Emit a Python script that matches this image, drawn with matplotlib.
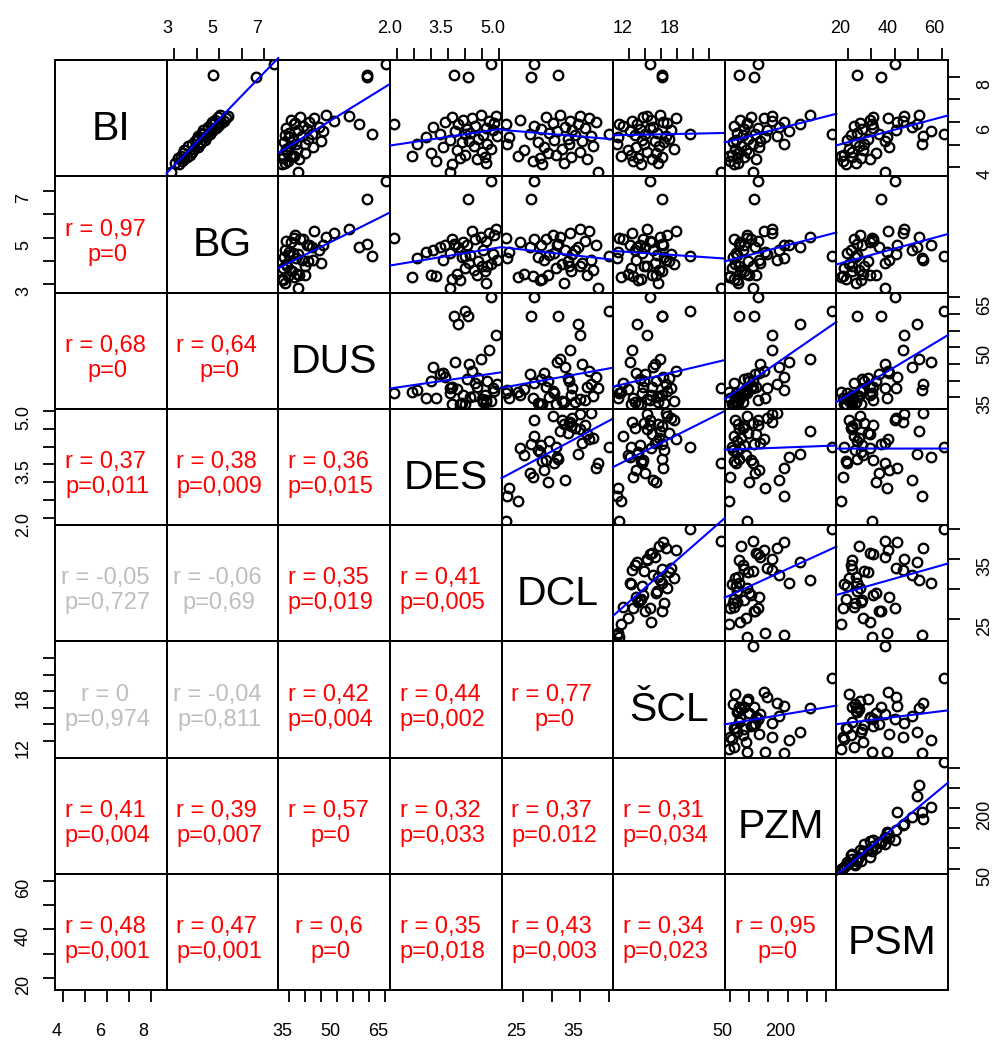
import matplotlib
matplotlib.use("Agg")
import matplotlib.pyplot as plt
import matplotlib.transforms as mtransforms
import numpy as np

plt.rcParams["font.family"] = ["Liberation Sans", "DejaVu Sans"]

names = ["BI", "BG", "DUS", "DES", "DCL", "ŠCL", "PZM", "PSM"]

bi = [8.54, 8.07, 7.99, 5.45, 3.80, 5.90, 6.30, 6.26, 6.21, 6.17, 6.10, 6.04,
      6.01, 5.95, 5.91, 5.84, 5.79, 5.73, 5.70, 5.64, 5.59, 5.53, 5.49, 5.41,
      5.37, 5.32, 5.27, 5.21, 5.17, 5.12, 5.05, 5.01, 4.94, 4.89, 4.81, 4.76,
      4.70, 4.63, 4.56, 4.51, 4.46, 4.41, 4.35, 4.29, 4.21, 4.14]
bg = [7.45, 4.74, 6.65, 4.20, 2.84, 5.00, 5.05, 5.38, 4.96, 5.30, 4.82, 5.22,
      4.70, 5.10, 4.62, 4.95, 4.48, 4.85, 4.70, 4.30, 4.68, 4.25, 4.60, 4.48,
      4.05, 4.40, 4.02, 4.35, 3.92, 4.18, 3.80, 4.15, 3.62, 4.05, 3.88, 3.45,
      3.78, 3.40, 3.70, 3.30, 3.58, 3.18, 3.42, 3.35, 3.05, 3.22]
dus = [65.2, 59.3, 59.3, 61.0, 37.8, 36.3, 46.4, 53.6, 38.2, 42.8, 35.5, 49.1,
       41.0, 36.9, 56.9, 39.4, 44.2, 34.0, 40.4, 37.6, 45.6, 35.0, 42.1, 33.5,
       38.9, 34.8, 40.8, 36.2, 44.9, 33.2, 39.8, 37.0, 35.3, 42.4, 33.9, 37.4,
       34.4, 40.0, 33.0, 36.5, 35.7, 32.9, 38.0, 34.6, 33.6, 32.8]
des = [4.74, 3.66, 4.08, 4.00, 3.55, 1.92, 4.45, 4.90, 3.62, 4.20, 3.95, 4.70,
       3.40, 4.85, 3.80, 4.30, 3.05, 4.60, 4.05, 4.80, 3.70, 4.15, 3.25, 4.52,
       4.94, 2.85, 4.38, 3.55, 4.10, 3.90, 4.65, 2.60, 4.25, 3.35, 4.75, 3.75,
       4.48, 3.00, 4.00, 2.46, 4.58, 3.85, 4.35, 3.15, 4.62, 3.60]
dcl = [26.9, 31.1, 26.4, 40.0, 38.1, 22.0, 31.5, 35.0, 29.0, 36.5, 24.5, 33.2,
       37.8, 30.2, 34.6, 27.0, 32.4, 35.9, 28.1, 33.6, 31.0, 29.6, 26.3, 34.1,
       36.8, 22.6, 32.9, 30.5, 35.3, 27.6, 33.0, 22.3, 37.2, 28.7, 31.8, 25.2,
       34.9, 29.3, 30.8, 24.1, 33.4, 27.9, 36.1, 26.8, 32.1, 28.4]
scl = [14.6, 16.1, 16.1, 19.6, 23.5, 10.7, 15.9, 14.2, 13.8, 17.9, 14.8, 12.4,
       16.2, 16.8, 13.0, 11.2, 15.0, 14.6, 13.4, 17.3, 12.1, 15.5, 14.0, 12.7,
       16.6, 10.6, 17.0, 13.6, 15.2, 16.4, 13.9, 10.5, 15.8, 12.8, 17.6, 11.9,
       14.3, 15.4, 12.2, 11.0, 16.1, 13.1, 14.9, 12.5, 15.6, 13.5]
pzm = [122, 73, 113, 315, 111, 94, 258, 160, 105, 138, 78, 159,
       190, 96, 231, 62, 178, 122, 88, 146, 203, 70, 115, 84,
       172, 141, 97, 66, 128, 58, 110, 190, 80, 125, 64, 93,
       75, 101, 55, 48, 86, 68, 118, 52, 72, 60]
psm = [40.3, 24.1, 34.4, 61.0, 36.0, 30.4, 50.5, 44.0, 31.0, 37.2, 29.5, 43.6,
       41.0, 25.5, 49.4, 22.8, 47.3, 30.8, 26.2, 40.5, 55.7, 24.0, 33.4, 21.5,
       52.0, 36.8, 28.8, 19.6, 35.9, 23.2, 27.0, 51.5, 24.9, 37.5, 20.8, 26.5,
       22.1, 31.9, 18.3, 17.0, 21.9, 25.6, 29.6, 18.0, 23.5, 19.4]

# correlation text for the lower triangle, row by row (row 2 col 1, row 3 col 1, row 3 col 2, ...)
r_text = ["0,97",
          "0,68", "0,64",
          "0,37", "0,38", "0,36",
          "-0,05", "-0,06", "0,35", "0,41",
          "0", "-0,04", "0,42", "0,44", "0,77",
          "0,41", "0,39", "0,57", "0,32", "0,37", "0,31",
          "0,48", "0,47", "0,6", "0,35", "0,43", "0,34", "0,95"]
p_text = ["0",
          "0", "0",
          "0,011", "0,009", "0,015",
          "0,727", "0,69", "0,019", "0,005",
          "0,974", "0,811", "0,004", "0,002", "0",
          "0,004", "0,007", "0", "0,033", "0.012", "0,034",
          "0,001", "0,001", "0", "0,018", "0,003", "0,023", "0"]

# axis ticks per variable and the values that carry a printed label
ticks = [[4, 5, 6, 7, 8],
         [3, 4, 5, 6, 7],
         [35, 40, 45, 50, 55, 60, 65],
         [2.0, 2.5, 3.0, 3.5, 4.0, 4.5, 5.0],
         [25, 30, 35, 40],
         [12, 14, 16, 18, 20, 22],
         [50, 100, 150, 200, 250, 300],
         [20, 30, 40, 50, 60]]
shown = [["4", "6", "8"],
         ["3", "5", "7"],
         ["35", "50", "65"],
         ["2.0", "3.5", "5.0"],
         ["25", "35"],
         ["12", "18"],
         ["50", "200"],
         ["20", "40", "60"]]


def tick_text(values, keep):
    out = []
    for v in values:
        s = f"{v:.1f}" if isinstance(v, float) else str(v)
        out.append(s if s in keep else "")
    return out


def main():
    data = [np.array(v, dtype=float) for v in (bi, bg, dus, des, dcl, scl, pzm, psm)]
    nv = len(data)

    fig = plt.figure(figsize=(9.97, 10.40), dpi=100)
    gs = fig.add_gridspec(nv, nv, left=55 / 997, right=948 / 997,
                          top=1 - 60 / 1040, bottom=1 - 990 / 1040,
                          wspace=0, hspace=0)

    lims = []
    for v in data:
        pad = 0.04 * (v.max() - v.min())
        lims.append((v.min() - pad, v.max() + pad))

    shift_x = mtransforms.ScaledTranslation(-7 / 100, 0, fig.dpi_scale_trans)
    shift_y = mtransforms.ScaledTranslation(0, -7 / 100, fig.dpi_scale_trans)

    k = 0
    lower = {}
    for i in range(1, nv):
        for j in range(i):
            lower[(i, j)] = (r_text[k], p_text[k])
            k += 1

    for i in range(nv):
        for j in range(nv):
            ax = fig.add_subplot(gs[i, j])
            ax.set_facecolor("none")
            ax.set_xlim(lims[j])
            ax.set_ylim(lims[i])
            for sp in ax.spines.values():
                sp.set_linewidth(1.4)
            ax.tick_params(which="both", bottom=False, top=False, left=False, right=False,
                           labelbottom=False, labeltop=False, labelleft=False, labelright=False)

            if i == j:
                ax.text(0.5, 0.31, names[i], transform=ax.transAxes, ha="center",
                        va="baseline", fontsize=29.5)
            elif j > i:
                x, y = data[j], data[i]
                ax.plot(x, y, "o", mfc="none", mec="black", ms=6.9, mew=1.65)
                slope, icpt = np.polyfit(x, y, 1)
                xs = np.array(lims[j])
                ax.plot(xs, slope * xs + icpt, color="blue", lw=1.5, clip_on=False, zorder=3)
            else:
                r, p = lower[(i, j)]
                col = "red" if float(p.replace(",", ".")) < 0.05 else "#BEBEBE"
                ax.text(0.45, 0.49, f"r = {r}", transform=ax.transAxes, ha="center",
                        va="baseline", fontsize=17, color=col)
                ax.text(0.47, 0.275, f"p={p}", transform=ax.transAxes, ha="center",
                        va="baseline", fontsize=17, color=col)

            # outer axes alternate sides like a pairs plot
            xside = None
            if i == nv - 1 and j % 2 == 0:
                xside = "bottom"
            elif i == 0 and j % 2 == 1:
                xside = "top"
            if xside:
                ax.set_xticks(ticks[j])
                ax.set_xticklabels(tick_text(ticks[j], shown[j]))
                ax.tick_params(axis="x", direction="out", length=8.6, width=1.3,
                               labelsize=13, bottom=(xside == "bottom"), top=(xside == "top"),
                               labelbottom=(xside == "bottom"), labeltop=(xside == "top"),
                               pad=14.8 if xside == "bottom" else 8)
                for lbl in ax.get_xticklabels():
                    lbl.set_transform(lbl.get_transform() + shift_x)

            yside = None
            if j == 0 and i % 2 == 1:
                yside = "left"
            elif j == nv - 1 and i % 2 == 0:
                yside = "right"
            if yside:
                ax.set_yticks(ticks[i])
                ax.set_yticklabels(tick_text(ticks[i], shown[i]))
                ax.tick_params(axis="y", direction="out", length=8.6, width=1.3,
                               labelsize=13, left=(yside == "left"), right=(yside == "right"),
                               labelleft=(yside == "left"), labelright=(yside == "right"),
                               labelrotation=90, pad=8 if yside == "left" else 12)
                for lbl in ax.get_yticklabels():
                    lbl.set_va("center")
                    lbl.set_transform(lbl.get_transform() + shift_y)

    fig.savefig("out.png", dpi=100, facecolor="white")


if __name__ == "__main__":
    main()
